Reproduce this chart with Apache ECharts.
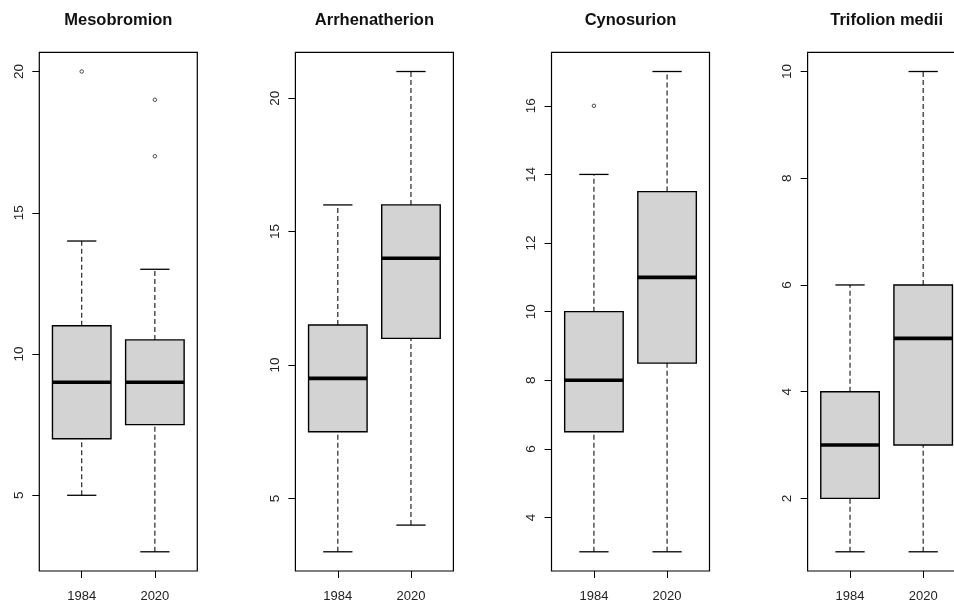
<!DOCTYPE html>
<html>
<head>
<meta charset="utf-8">
<script src="https://cdn.jsdelivr.net/npm/echarts@6/dist/echarts.min.js"></script>
<style>
html,body{margin:0;padding:0;background:#fff;overflow:hidden;width:954px;height:603px;}
#chart{width:1030px;height:603px;}
</style>
</head>
<body>
<div id="chart"></div>
<script>
// ---- data ----
const titles = ['Mesobromion', 'Arrhenatherion', 'Cynosurion', 'Trifolion medii'];
const years = ['1984', '2020'];
// each entry: [lower whisker, Q1, median, Q3, upper whisker] for 1984 and 2020
const mesobromion    = [[5, 7, 9, 11, 14],     [3, 7.5, 9, 10.5, 13]];
const arrhenatherion = [[3, 7.5, 9.5, 11.5, 16], [4, 11, 14, 16, 21]];
const cynosurion     = [[3, 6.5, 8, 10, 14],   [3, 8.5, 11, 13.5, 17]];
const trifolion      = [[1, 2, 3, 4, 6],       [1, 3, 5, 6, 10]];
// outliers per year
const mesobromionOut    = [[20], [17, 19]];
const arrhenatherionOut = [[], []];
const cynosurionOut     = [[16], []];
const trifolionOut      = [[], []];
// y tick labels
const mesobromionTicks    = [5, 10, 15, 20];
const arrhenatherionTicks = [5, 10, 15, 20];
const cynosurionTicks     = [4, 6, 8, 10, 12, 14, 16];
const trifolionTicks      = [2, 4, 6, 8, 10];

const boxes = [mesobromion, arrhenatherion, cynosurion, trifolion];
const outs = [mesobromionOut, arrhenatherionOut, cynosurionOut, trifolionOut];
const ticks = [mesobromionTicks, arrhenatherionTicks, cynosurionTicks, trifolionTicks];

// ---- layout ----
const FONT = '"Liberation Sans", Arial, sans-serif';
const panelStep = 256.1, firstLeft = 39.3, plotW = 158, plotTop = 52.3, plotH = 520;

const grids = [], xAxes = [], yAxes = [], series = [], titleOpts = [];

function renderBox(params, api) {
  const x = api.value(0);
  const lo = api.value(1), q1 = api.value(2), md = api.value(3), q3 = api.value(4), hi = api.value(5);
  const hw = 0.4, cw = 0.2;
  const p = (a, b) => api.coord([a, b]);
  const tl = p(x - hw, q3), br = p(x + hw, q1);
  const dash = {stroke: '#111', lineWidth: 1.1, lineDash: [5, 3], fill: null};
  const solid = {stroke: '#000', lineWidth: 1.3, fill: null};
  const line = (a, b, style) => ({type: 'line', shape: {x1: a[0], y1: a[1], x2: b[0], y2: b[1]}, style: style});
  return {
    type: 'group',
    children: [
      line(p(x, q3), p(x, hi), dash),
      line(p(x, lo), p(x, q1), dash),
      line(p(x - cw, hi), p(x + cw, hi), solid),
      line(p(x - cw, lo), p(x + cw, lo), solid),
      {type: 'rect', shape: {x: tl[0], y: tl[1], width: br[0] - tl[0], height: br[1] - tl[1]},
       style: {fill: '#d3d3d3', stroke: '#000', lineWidth: 1.4}},
      line(p(x - hw, md), p(x + hw, md), {stroke: '#000', lineWidth: 3.6})
    ]
  };
}

boxes.forEach((b, i) => {
  const left = firstLeft + panelStep * i;
  grids.push({left: left, top: plotTop, width: plotW, height: plotH, show: true,
    borderColor: '#000', borderWidth: 1.2, backgroundColor: 'transparent', containLabel: false});

  // R-style 4% range extension from the data extent
  let lo = Infinity, hi = -Infinity;
  b.forEach((s, k) => {
    lo = Math.min(lo, s[0], ...outs[i][k]);
    hi = Math.max(hi, s[4], ...outs[i][k]);
  });
  const ext = (hi - lo) * 0.04;

  xAxes.push({type: 'value', gridIndex: i, min: 0.42, max: 2.58,
    axisLine: {show: false}, splitLine: {show: false},
    axisTick: {show: true, customValues: [1, 2], length: 7, lineStyle: {color: '#000', width: 1}},
    axisLabel: {show: true, customValues: [1, 2], margin: 19, fontSize: 13, color: '#222', fontFamily: FONT,
      formatter: v => years[Math.round(v) - 1]}});

  yAxes.push({type: 'value', gridIndex: i, min: lo - ext, max: hi + ext,
    axisLine: {show: false}, splitLine: {show: false},
    axisTick: {show: true, customValues: ticks[i], length: 7, lineStyle: {color: '#000', width: 1}},
    axisLabel: {show: true, customValues: ticks[i], rotate: 90, margin: 13, fontSize: 13.5, color: '#222', fontFamily: FONT}});

  series.push({type: 'custom', xAxisIndex: i, yAxisIndex: i, renderItem: renderBox,
    encode: {x: 0, y: [1, 2, 3, 4, 5]},
    data: b.map((s, k) => [k + 1, ...s]), silent: true, clip: false});

  const outPts = [];
  outs[i].forEach((arr, k) => arr.forEach(v => outPts.push([k + 1, v])));
  series.push({type: 'scatter', xAxisIndex: i, yAxisIndex: i, data: outPts, symbol: 'circle', symbolSize: 3.5,
    itemStyle: {color: '#fff', borderColor: '#222', borderWidth: 1}, silent: true});

  titleOpts.push({text: titles[i], left: left + plotW / 2, top: 12, textAlign: 'center', padding: 0,
    textStyle: {fontSize: 16.5, fontWeight: 'bold', color: '#111', fontFamily: FONT}});
});

const chart = echarts.init(document.getElementById('chart'), null, {renderer: 'canvas'});
chart.setOption({
  animation: false,
  backgroundColor: '#fff',
  title: titleOpts,
  grid: grids,
  xAxis: xAxes,
  yAxis: yAxes,
  series: series
});
</script>
</body>
</html>
